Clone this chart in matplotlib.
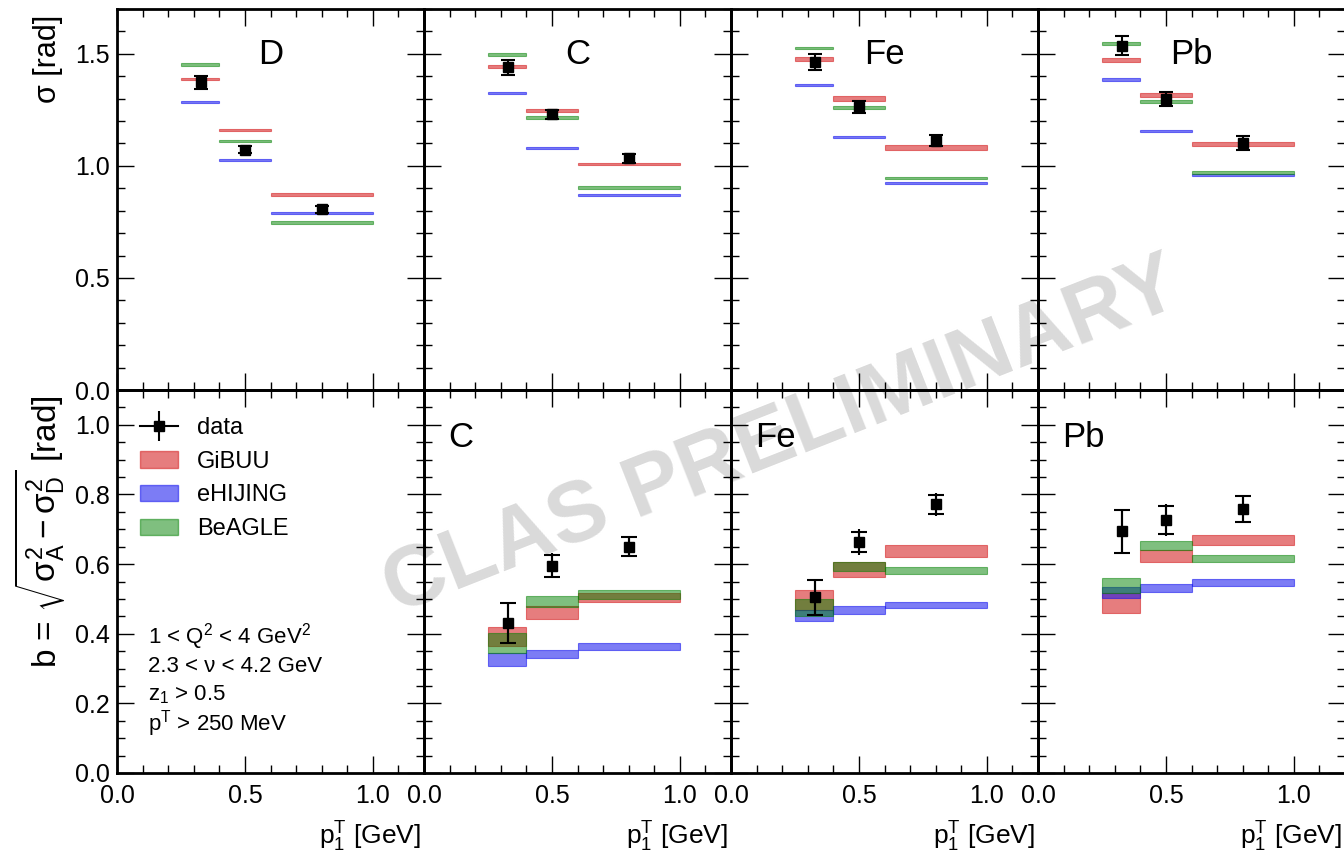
import matplotlib
matplotlib.use("Agg")
import matplotlib.pyplot as plt
import numpy as np
from matplotlib.lines import Line2D
from matplotlib.patches import Patch
from matplotlib.legend_handler import HandlerTuple
from matplotlib.ticker import MultipleLocator

plt.rcParams['font.family'] = ['Liberation Sans', 'DejaVu Sans']
plt.rcParams['mathtext.fontset'] = 'custom'
plt.rcParams['mathtext.rm'] = 'Liberation Sans'
plt.rcParams['mathtext.it'] = 'Liberation Sans'
plt.rcParams['mathtext.bf'] = 'Liberation Sans:bold'

targets = ['D', 'C', 'Fe', 'Pb']
bin_edges = np.array([0.25, 0.40, 0.60, 1.00])
data_x = [0.33, 0.50, 0.80]
models = ['GiBUU', 'eHIJING', 'BeAGLE']
model_colors = {'GiBUU': '#d62728', 'eHIJING': '#1010ee', 'BeAGLE': '#008000'}
model_alpha = {'GiBUU': 0.6, 'eHIJING': 0.55, 'BeAGLE': 0.5}

# --- top row: sigma [rad] ---
sigma_data = {'D': [1.373, 1.072, 0.806], 'C': [1.439, 1.230, 1.033],
              'Fe': [1.462, 1.263, 1.112], 'Pb': [1.536, 1.299, 1.102]}
sigma_err = {'D': [0.028, 0.015, 0.015], 'C': [0.033, 0.020, 0.020],
             'Fe': [0.035, 0.025, 0.025], 'Pb': [0.042, 0.032, 0.030]}
sigma_models = {
    'GiBUU': {'D': [1.388, 1.160, 0.872], 'C': [1.442, 1.248, 1.008],
              'Fe': [1.476, 1.300, 1.081], 'Pb': [1.472, 1.317, 1.099]},
    'eHIJING': {'D': [1.284, 1.026, 0.790], 'C': [1.324, 1.081, 0.869],
                'Fe': [1.360, 1.128, 0.925], 'Pb': [1.385, 1.155, 0.958]},
    'BeAGLE': {'D': [1.451, 1.111, 0.746], 'C': [1.496, 1.215, 0.905],
               'Fe': [1.526, 1.260, 0.946], 'Pb': [1.546, 1.288, 0.969]},
}
sigma_model_err = {'GiBUU': [0.006, 0.006, 0.010, 0.009],
                   'eHIJING': [0.005, 0.005, 0.005, 0.005],
                   'BeAGLE': [0.006, 0.006, 0.006, 0.006]}

# --- bottom row: broadening b [rad] ---
b_data = {'C': [0.431, 0.595, 0.650], 'Fe': [0.505, 0.664, 0.772],
          'Pb': [0.694, 0.726, 0.758]}
b_err_cap = {'C': [0.058, 0.032, 0.027], 'Fe': [0.050, 0.028, 0.027],
             'Pb': [0.061, 0.040, 0.037]}
b_err_tot = {'C': [0.058, 0.036, 0.031], 'Fe': [0.050, 0.037, 0.033],
             'Pb': [0.061, 0.046, 0.041]}
b_models = {
    'GiBUU': {'C': [(0.364, 0.420), (0.442, 0.480), (0.491, 0.516)],
              'Fe': [(0.468, 0.527), (0.563, 0.606), (0.621, 0.654)],
              'Pb': [(0.460, 0.516), (0.607, 0.640), (0.654, 0.683)]},
    'eHIJING': {'C': [(0.308, 0.345), (0.330, 0.354), (0.354, 0.374)],
                'Fe': [(0.436, 0.468), (0.458, 0.479), (0.473, 0.492)],
                'Pb': [(0.503, 0.535), (0.521, 0.542), (0.537, 0.556)]},
    'BeAGLE': {'C': [(0.345, 0.401), (0.478, 0.508), (0.500, 0.525)],
               'Fe': [(0.450, 0.500), (0.580, 0.606), (0.572, 0.593)],
               'Pb': [(0.516, 0.559), (0.640, 0.665), (0.606, 0.627)]},
}
cuts = [r'1 < Q$^2$ < 4 GeV$^2$', '2.3 < ν < 4.2 GeV', r'z$_1$ > 0.5', r'p$^T$ > 250 MeV']

W, H = 1344, 856
fig = plt.figure(figsize=(W / 100, H / 100), dpi=100)
fig.patch.set_facecolor('white')

left0, pw = 117, 307
bin_left = bin_edges[:-1]
bin_w = np.diff(bin_edges)


def style_axes(ax, top_row, first_col):
    ax.set_facecolor('none')
    ax.set_xlim(0, 1.2)
    ax.xaxis.set_major_locator(MultipleLocator(0.5))
    ax.xaxis.set_minor_locator(MultipleLocator(0.1))
    if top_row:
        ax.set_ylim(0, 1.7)
        ax.yaxis.set_major_locator(MultipleLocator(0.5))
        ax.yaxis.set_minor_locator(MultipleLocator(0.1))
    else:
        ax.set_ylim(0, 1.1)
        ax.yaxis.set_major_locator(MultipleLocator(0.2))
        ax.yaxis.set_minor_locator(MultipleLocator(0.05))
    ax.tick_params(which='both', direction='in', top=True, right=True, width=1)
    ax.tick_params(which='major', length=12)
    ax.tick_params(which='minor', length=6)
    ax.tick_params(axis='x', labelsize=18, pad=8, labelbottom=not top_row)
    ax.tick_params(axis='y', labelsize=18, pad=5, labelleft=first_col)
    for sp in ax.spines.values():
        sp.set_linewidth(2)


def draw_band(ax, lo, hi, model):
    c = model_colors[model]
    ax.bar(bin_left, np.array(hi) - np.array(lo), width=bin_w, bottom=lo, align='edge',
           color=c, alpha=model_alpha[model], edgecolor=c, linewidth=0.8)


for j, t in enumerate(targets):
    x0 = (left0 + j * pw) / W
    ax_t = fig.add_axes([x0, (H - 390) / H, pw / W, 381 / H])
    ax_b = fig.add_axes([x0, (H - 773) / H, pw / W, 383 / H])
    style_axes(ax_t, True, j == 0)
    style_axes(ax_b, False, j == 0)

    for m in models:
        v = np.array(sigma_models[m][t])
        e = sigma_model_err[m][j]
        draw_band(ax_t, v - e, v + e, m)
    ax_t.errorbar(data_x, sigma_data[t], yerr=sigma_err[t], fmt='s', color='k',
                  ms=7, elinewidth=1.5, capsize=5, capthick=1.5, zorder=5)
    ax_t.text(0.5, 0.88, t, transform=ax_t.transAxes, fontsize=25,
              ha='center', va='center')

    if t in b_data:
        for m in models:
            lo, hi = zip(*b_models[m][t])
            draw_band(ax_b, lo, hi, m)
        ax_b.errorbar(data_x, b_data[t], yerr=b_err_tot[t], fmt='none', ecolor='k',
                      elinewidth=1.5, capsize=0, zorder=5)
        ax_b.errorbar(data_x, b_data[t], yerr=b_err_cap[t], fmt='s', color='k',
                      ms=7, elinewidth=1.5, capsize=6, capthick=1.5, zorder=6)
        ax_b.text(0.08, 0.877, t, transform=ax_b.transAxes, fontsize=25,
                  ha='left', va='center')
    else:
        h_data = (Line2D([], [], color='k', marker='s', ms=7, lw=1.5),
                  Line2D([], [], color='k', marker='|', ms=22, mew=1.5, ls='none'))
        handles = [h_data] + [Patch(facecolor=model_colors[m], alpha=model_alpha[m],
                                    edgecolor=model_colors[m]) for m in models]
        ax_b.legend(handles, ['data'] + models, loc='upper left',
                    bbox_to_anchor=(0.075, 0.93), frameon=False, fontsize=17,
                    handlelength=1.6, handletextpad=0.8, labelspacing=0.5,
                    borderpad=0, borderaxespad=0,
                    handler_map={tuple: HandlerTuple(ndivide=1)})
        for k, line in enumerate(cuts):
            ax_b.text(0.101, 0.355 - k * 0.0757, line, transform=ax_b.transAxes,
                      fontsize=16, ha='left', va='center')

    ax_b.set_xlabel(r'p$_1^T$ [GeV]', fontsize=19, ha='right')
    ax_b.xaxis.set_label_coords(0.99, -0.166)
    ax_b.xaxis.label.set_va('center')

    if j == 0:
        ax_t.set_ylabel('σ [rad]', fontsize=22, loc='top')
        ax_t.yaxis.set_label_coords(-0.2, 0.984)
        ax_t.yaxis.label.set_va('baseline')
        ax_b.set_ylabel(r'b = $\sqrt{σ_A^2 - σ_D^2}$ [rad]', fontsize=24, loc='top')
        ax_b.yaxis.set_label_coords(-0.2, 0.987)
        ax_b.yaxis.label.set_va('baseline')

fig.text(782 / W, 1 - 438 / H, 'CLAS PRELIMINARY', rotation=21.5, fontsize=62,
         weight='bold', color='#dadada', ha='center', va='center',
         rotation_mode='anchor', zorder=-1)

fig.savefig('out.png', dpi=100, facecolor='white')
